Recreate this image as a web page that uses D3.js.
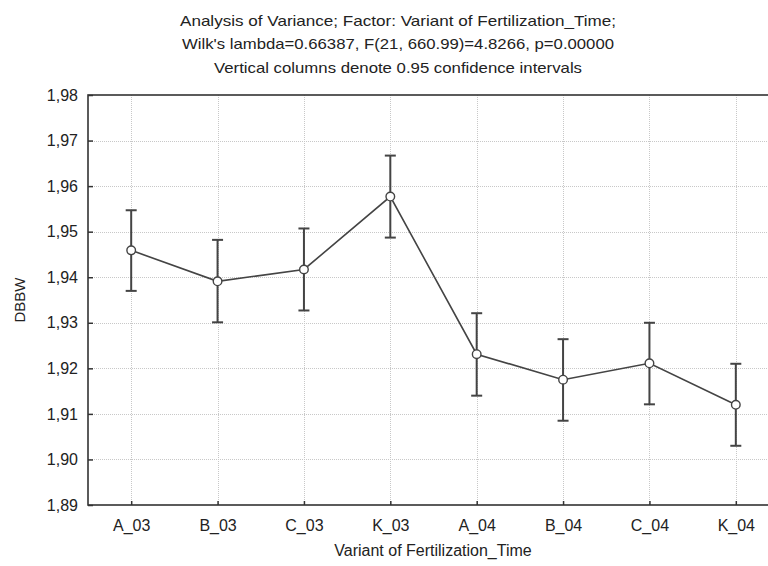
<!DOCTYPE html>
<html>
<head>
<meta charset="utf-8">
<script src="https://cdn.jsdelivr.net/npm/d3@7"></script>
<style>
	body { margin: 0; background: #fff; }
	svg { display: block; }
	text { font-family: "Liberation Sans", Arial, sans-serif; fill: #222; }
</style>
</head>
<body>
<svg width="768" height="566"></svg>
<script>

// data
const categories = ["A_03", "B_03", "C_03", "K_03", "A_04", "B_04", "C_04", "K_04"];
const means = [1.9459, 1.9391, 1.9417, 1.9577, 1.9231, 1.9175, 1.9211, 1.9120];
const upper = [1.9547, 1.9482, 1.9507, 1.9667, 1.9321, 1.9264, 1.9300, 1.9210];
const lower = [1.9370, 1.9301, 1.9327, 1.9487, 1.9140, 1.9085, 1.9121, 1.9030];
const yTicks = [1.89, 1.90, 1.91, 1.92, 1.93, 1.94, 1.95, 1.96, 1.97, 1.98];
const titleLines = [
	"Analysis of Variance; Factor: Variant of Fertilization_Time;",
	"Wilk's lambda=0.66387, F(21, 660.99)=4.8266, p=0.00000",
	"Vertical columns denote 0.95 confidence intervals"
];

const svg = d3.select('svg');

// plot frame (runs off the right edge like the original)
const pLeft = 88, pRight = 779, pTop = 95, pBottom = 505;

const x = d3.scalePoint().domain(categories).range([pLeft, pRight]).padding(0.5);
const y = d3.scaleLinear().domain([1.89, 1.98]).range([pBottom, pTop]);
const fmt = v => d3.format(".2f")(v).replace(".", ",");

//Title
const titleLen = [436, 432, 368];
svg.append('g').selectAll('text')
	.data(titleLines)
	.join('text')
	.attr("x", 398)
	.attr("y", (d, i) => 25.5 + i * 23.5)
	.attr("text-anchor", "middle")
	.attr("textLength", (d, i) => titleLen[i])
	.attr("lengthAdjust", "spacingAndGlyphs")
	.style("font-size", "15px")
	.text(d => d);

//Grid
const grid = svg.append('g').attr('class', 'grid')
	.style("stroke", "#c8c8c8")
	.style("stroke-width", 1)
	.style("stroke-dasharray", "1,1");
grid.selectAll('line.h')
	.data(yTicks.slice(1, -1))
	.join('line')
	.attr("x1", pLeft).attr("x2", pRight)
	.attr("y1", d => Math.round(y(d)) + 0.5)
	.attr("y2", d => Math.round(y(d)) + 0.5);
grid.selectAll('line.v')
	.data(categories)
	.join('line')
	.attr("x1", d => Math.round(x(d)) + 0.5)
	.attr("x2", d => Math.round(x(d)) + 0.5)
	.attr("y1", pTop).attr("y2", pBottom);

//Axes, ticks drawn inside the frame
const yAxis = svg.append('g')
	.attr("transform", "translate(" + pLeft + ",0)")
	.call(d3.axisRight(y).tickValues(yTicks).tickSize(5).tickFormat(fmt));
yAxis.select('.domain').remove();
yAxis.selectAll('.tick line').attr("stroke", "#333").attr("stroke-width", 1.5);
yAxis.selectAll('.tick text')
	.attr("x", -10)
	.attr("text-anchor", "end")
	.style("font-size", "16px")
	.style("font-family", '"Liberation Sans", Arial, sans-serif')
	.attr("fill", "#222");

const xAxis = svg.append('g')
	.attr("transform", "translate(0," + pBottom + ")")
	.call(d3.axisTop(x).tickSize(4).tickFormat(d => d));
xAxis.select('.domain').remove();
xAxis.selectAll('.tick line').attr("stroke", "#333").attr("stroke-width", 1.5);
xAxis.selectAll('.tick text')
	.attr("y", 26)
	.attr("dy", 0)
	.style("font-size", "16px")
	.style("font-family", '"Liberation Sans", Arial, sans-serif')
	.attr("fill", "#222");

//Frame
svg.append('rect')
	.attr("x", pLeft).attr("y", pTop)
	.attr("width", pRight - pLeft).attr("height", pBottom - pTop)
	.attr("fill", "none")
	.attr("stroke", "#333")
	.attr("stroke-width", 1.6);

//Axis titles
svg.append('text')
	.attr("x", 433)
	.attr("y", 556)
	.attr("text-anchor", "middle")
	.style("font-size", "16px")
	.text("Variant of Fertilization_Time");
svg.append('text')
	.attr("transform", "translate(25,300) rotate(-90)")
	.attr("text-anchor", "middle")
	.style("font-size", "15px")
	.text("DBBW");

//Error bars
const bars = svg.append('g')
	.attr("stroke", "#444")
	.attr("stroke-width", 2);
categories.forEach((c, i) => {
	const cx = x(c);
	bars.append('line')
		.attr("x1", cx).attr("x2", cx)
		.attr("y1", y(upper[i])).attr("y2", y(lower[i]));
	bars.append('line')
		.attr("x1", cx - 5.5).attr("x2", cx + 5.5)
		.attr("y1", y(upper[i])).attr("y2", y(upper[i]));
	bars.append('line')
		.attr("x1", cx - 5.5).attr("x2", cx + 5.5)
		.attr("y1", y(lower[i])).attr("y2", y(lower[i]));
});

//Mean line and markers
const line = d3.line()
	.x((d, i) => x(categories[i]))
	.y(d => y(d));
svg.append('path')
	.datum(means)
	.attr("d", line)
	.attr("fill", "none")
	.attr("stroke", "#444")
	.attr("stroke-width", 1.6);
svg.append('g').selectAll('circle')
	.data(means)
	.join('circle')
	.attr("cx", (d, i) => x(categories[i]))
	.attr("cy", d => y(d))
	.attr("r", 4.3)
	.attr("fill", "#fff")
	.attr("stroke", "#444")
	.attr("stroke-width", 1.4);

</script>
</body>
</html>
